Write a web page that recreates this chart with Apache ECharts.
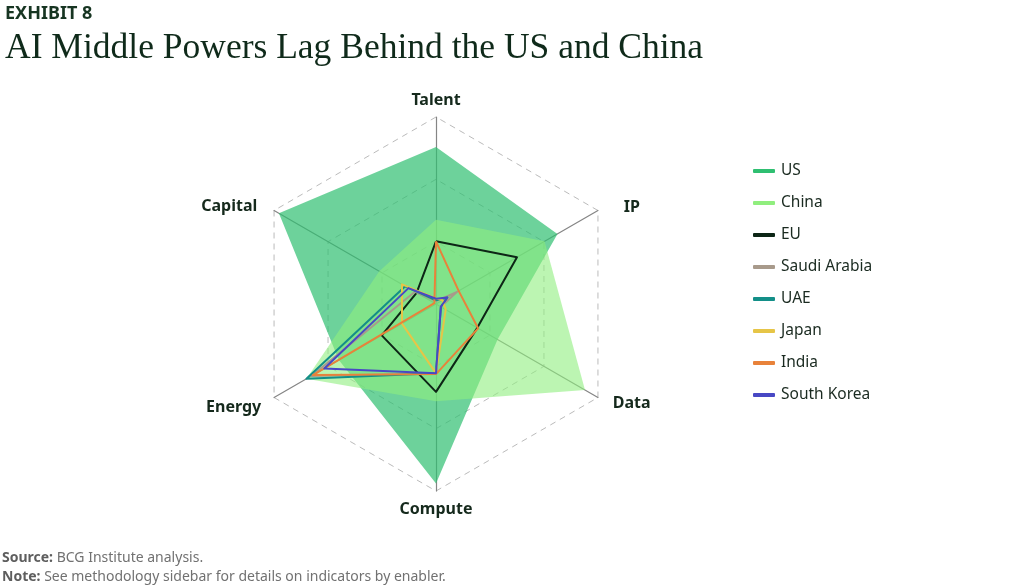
<!DOCTYPE html>
<html style="height: 100%">
<head>
<meta charset="utf-8">
</head>
<body style="height: 100%; margin: 0; background: #fff">
<div id="container" style="height: 585px; width: 1024px"></div>
<script type="text/javascript" src="https://cdn.jsdelivr.net/npm/echarts/dist/echarts.min.js"></script>
<script type="text/javascript">
// indicators in echarts order (counterclockwise from the top)
var enablers = ['Talent', 'Capital', 'Energy', 'Compute', 'Data', 'IP'];

var countries = ['US', 'China', 'EU', 'Saudi Arabia', 'UAE', 'Japan', 'India', 'South Korea'];
var colors = ['#2fbf71', '#90ee7e', '#0d2616', '#a89a8b', '#138f88', '#e6c547', '#e8823a', '#4848c4'];

// scores 0..1, order: Talent, Capital, Energy, Compute, Data, IP
var usVals     = [0.84, 0.97, 0.60, 0.96, 0.38, 0.75];
var chinaVals  = [0.45, 0.35, 0.80, 0.52, 0.92, 0.67];
var euVals     = [0.335, 0.12, 0.335, 0.47, 0.255, 0.50];
var saudiVals  = [0.015, 0.13, 0.77, 0.37, 0.03, 0.13];
var uaeVals    = [0.02, 0.19, 0.80, 0.37, 0.03, 0.07];
var japanVals  = [0.03, 0.21, 0.21, 0.37, 0.06, 0.04];
var indiaVals  = [0.335, 0.01, 0.76, 0.375, 0.26, 0.14];
var koreaVals  = [0.028, 0.17, 0.69, 0.37, 0.03, 0.07];

var allVals = [usVals, chinaVals, euVals, saudiVals, uaeVals, japanVals, indiaVals, koreaVals];

var dom = document.getElementById("container");
var myChart = echarts.init(dom);

var series = [];
for (var i = 0; i < countries.length; i++) {
    var filled = i < 2;
    series.push({
        name: countries[i],
        type: 'radar',
        symbol: 'none',
        z: filled ? 2 : 3,
        lineStyle: { color: colors[i], width: filled ? 0 : 2, opacity: filled ? 0 : 1 },
        itemStyle: { color: colors[i] },
        areaStyle: filled ? { color: colors[i], opacity: i == 0 ? 0.7 : 0.6 } : undefined,
        data: [{ value: allVals[i], name: countries[i] }]
    });
}

// small nudges so the axis names sit where the original has them
var nameRich = {
    Talent: { padding: [0, 0, 0, 0] },
    Capital: { padding: [1, 9, 0, 0] },
    Energy: { padding: [11, 5, 0, 0] },
    Compute: { padding: [1, 0, 0, 0] },
    Data: { padding: [2, 0, 0, 7] },
    IP: { padding: [2, 0, 0, 18] }
};

var option = {
    backgroundColor: '#ffffff',
    animation: false,
    title: [
        {
            text: 'EXHIBIT 8',
            left: 0,
            top: 0,
            textStyle: { fontFamily: 'Noto Sans', fontSize: 18, fontWeight: 'bold', color: '#173522' }
        },
        {
            text: 'AI Middle Powers Lag Behind the US and China',
            left: 0,
            top: 26,
            textStyle: { fontFamily: 'Liberation Serif', fontSize: 35.5, fontWeight: 'normal', color: '#0f2a1a' }
        }
    ],
    legend: {
        orient: 'vertical',
        left: 748,
        top: 157,
        itemWidth: 22,
        itemHeight: 4,
        itemGap: 14,
        icon: 'roundRect',
        data: countries,
        textStyle: { fontFamily: 'Noto Sans', fontSize: 15.5, color: '#1a2a20', lineHeight: 18, padding: [0, 0, 0, 1] }
    },
    radar: {
        center: [436, 304],
        radius: 187,
        startAngle: 90,
        shape: 'polygon',
        splitNumber: 3,
        indicator: enablers.map(function (n) { return { name: n, max: 1, min: 0 }; }),
        axisName: {
            fontFamily: 'Noto Sans',
            fontSize: 16,
            fontWeight: 'bold',
            color: '#15291c',
            formatter: function (name) { return '{' + name + '|' + name + '}'; },
            rich: nameRich
        },
        nameGap: 9,
        axisLine: { lineStyle: { color: '#858585', width: 1.2 } },
        splitLine: { lineStyle: { color: '#bbbbbb', type: [6, 5], width: 1 } },
        splitArea: { show: false },
        axisTick: { show: false },
        axisLabel: { show: false }
    },
    graphic: [
        {
            type: 'text',
            left: 2,
            top: 551,
            style: {
                text: '{b|Source:} BCG Institute analysis.',
                rich: { b: { fontWeight: 'bold', fontFamily: 'Noto Sans', fontSize: 14, fill: '#5e5e5e' } },
                fontFamily: 'Noto Sans',
                fontSize: 14,
                fill: '#717171'
            }
        },
        {
            type: 'text',
            left: 2,
            top: 570,
            style: {
                text: '{b|Note:} See methodology sidebar for details on indicators by enabler.',
                rich: { b: { fontWeight: 'bold', fontFamily: 'Noto Sans', fontSize: 14, fill: '#5e5e5e' } },
                fontFamily: 'Noto Sans',
                fontSize: 14,
                fill: '#717171'
            }
        }
    ],
    series: series
};

if (option && typeof option === "object") {
    myChart.setOption(option, true);
}
</script>
</body>
</html>
